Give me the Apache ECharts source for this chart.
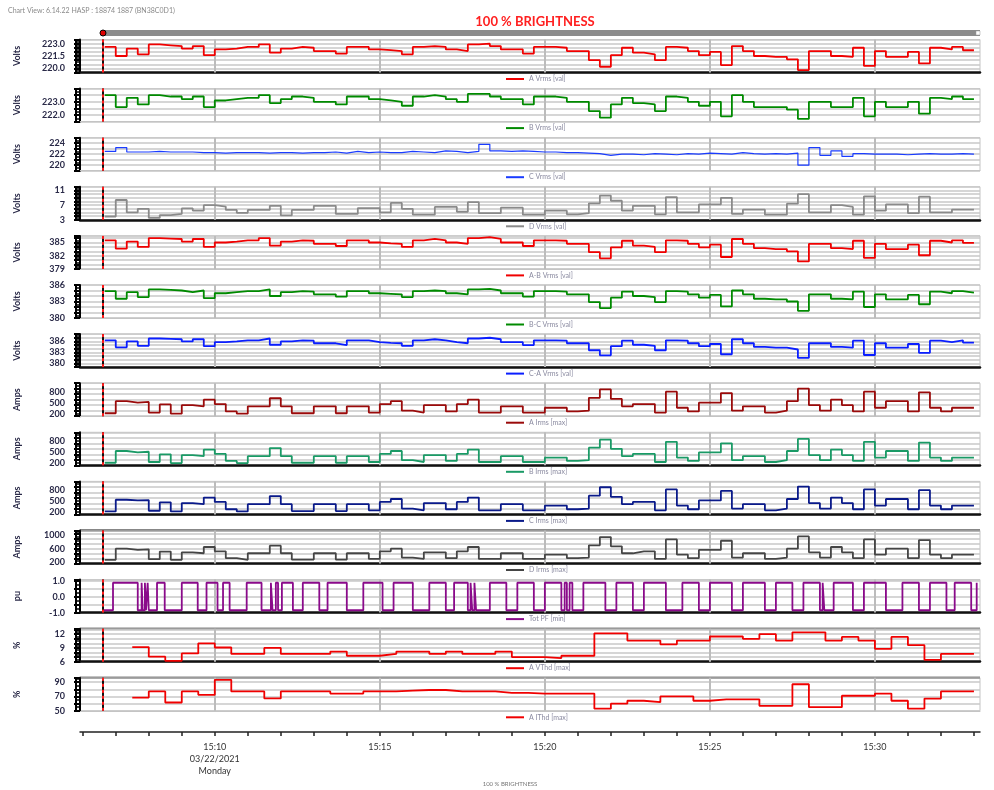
<!DOCTYPE html>
<html>
<head>
<meta charset="utf-8">
<title>100 % BRIGHTNESS</title>
<script src="https://cdn.jsdelivr.net/npm/echarts@6/dist/echarts.min.js"></script>
<style>
  html, body { margin: 0; padding: 0; background: #fff; }
  #chart { width: 994px; height: 790px; }
</style>
</head>
<body>
<div id="chart"></div>
<script>
// time is in seconds after 15:00:00
// fast channels: one sample every 20 s starting 15:06:40
var sampleStart = 400, sampleStep = 20;

var aVrms = [222.6, 221.5, 222.4, 221.7, 222.9, 222.8, 222.7, 222.4, 222.7, 221.6,
  222.3, 222.4, 222.6, 222.6, 222.9, 221.9, 222.4, 222.6, 222.5, 222.1,
  222.1, 221.8, 222.6, 222.6, 222.3, 222.2, 222.1, 221.7, 222.6, 222.7,
  222.6, 222.3, 222.1, 222.9, 223.0, 222.7, 222.3, 222.3, 221.8, 222.6,
  222.6, 222.5, 222.1, 222.1, 221.0, 220.2, 221.6, 222.5, 221.9, 221.7,
  221.0, 222.6, 222.5, 222.1, 221.6, 222.0, 220.4, 222.7, 222.1, 221.5,
  221.4, 221.4, 221.1, 219.8, 222.1, 222.1, 221.5, 221.4, 222.5, 220.3,
  222.1, 221.4, 221.4, 222.0, 220.6, 222.5, 222.3, 222.6, 222.2, 222.2];

var bVrms = [223.5, 222.6, 223.3, 222.8, 223.5, 223.4, 223.4, 223.2, 223.4, 222.6,
  223.1, 223.2, 223.3, 223.3, 223.5, 222.9, 223.2, 223.4, 223.3, 223.0,
  223.0, 222.8, 223.4, 223.4, 223.2, 223.1, 223.0, 222.7, 223.4, 223.5,
  223.4, 223.2, 223.0, 223.6, 223.6, 223.4, 223.2, 223.2, 222.8, 223.4,
  223.4, 223.3, 223.0, 223.0, 222.3, 221.8, 222.8, 223.3, 222.9, 222.8,
  222.3, 223.4, 223.3, 223.0, 222.7, 223.0, 221.9, 223.5, 223.0, 222.6,
  222.6, 222.6, 222.4, 221.7, 223.0, 223.0, 222.6, 222.6, 223.3, 221.9,
  223.0, 222.6, 222.6, 223.0, 222.1, 223.3, 223.2, 223.4, 223.2, 223.2];

var cVrms = [222.5, 223.2, 222.4, 222.4, 222.5, 222.4, 222.4, 222.4, 222.3, 222.3,
  222.2, 222.3, 222.3, 222.3, 222.2, 222.3, 222.3, 222.2, 222.3, 222.3,
  222.4, 222.2, 222.5, 222.3, 222.4, 222.3, 222.3, 222.5, 222.4, 222.3,
  222.6, 222.5, 222.3, 222.5, 223.8, 222.6, 222.5, 222.6, 222.5, 222.4,
  222.4, 222.3, 222.3, 222.2, 222.1, 221.8, 222.0, 222.0, 221.9, 222.1,
  222.0, 221.9, 222.1, 222.0, 222.2, 222.1, 222.0, 222.3, 222.1, 222.0,
  222.1, 222.0, 222.2, 220.0, 223.2, 221.8, 222.6, 221.6, 222.1, 222.0,
  222.0, 222.0, 221.9, 222.0, 222.1, 222.0, 222.0, 222.1, 222.0, 222.0];

var dVrms = [3.9, 8.4, 5.0, 6.0, 3.5, 4.3, 4.6, 6.1, 5.5, 7.0,
  6.6, 5.7, 4.9, 5.7, 5.7, 6.8, 4.2, 5.7, 5.7, 6.8,
  6.8, 4.6, 4.6, 6.2, 6.2, 5.0, 7.6, 6.0, 4.4, 4.4,
  6.5, 6.5, 5.2, 7.8, 4.8, 4.8, 6.3, 6.3, 4.4, 4.4,
  5.5, 5.5, 4.5, 4.8, 7.5, 9.6, 8.2, 5.5, 6.8, 6.8,
  4.5, 9.2, 5.0, 5.0, 7.2, 7.2, 9.0, 4.6, 5.8, 5.8,
  4.4, 4.4, 7.4, 10.0, 5.0, 5.0, 7.0, 6.5, 4.4, 9.4,
  5.5, 7.2, 7.2, 4.8, 9.3, 5.0, 5.0, 5.8, 5.8, 5.8];

var abVrms = [385.5, 383.6, 385.2, 384.0, 386.0, 385.9, 385.8, 385.2, 385.8, 384.0,
  385.0, 385.2, 385.5, 385.5, 386.0, 384.3, 385.2, 385.5, 385.4, 384.7,
  384.7, 384.2, 385.5, 385.5, 385.0, 384.8, 384.7, 384.0, 385.5, 385.8,
  385.5, 385.0, 384.7, 386.0, 386.2, 385.8, 385.0, 385.0, 384.2, 385.5,
  385.5, 385.4, 384.7, 384.7, 382.8, 381.4, 383.9, 385.4, 384.3, 384.0,
  382.8, 385.5, 385.4, 384.7, 383.9, 384.5, 381.7, 385.8, 384.7, 383.7,
  383.5, 383.5, 383.0, 380.7, 384.7, 384.7, 383.7, 383.5, 385.4, 381.5,
  384.7, 383.5, 383.5, 384.5, 382.1, 385.4, 385.0, 385.5, 384.9, 384.9];

var bcVrms = [384.9, 383.5, 384.7, 383.8, 385.2, 385.1, 385.0, 384.7, 385.0, 383.6,
  384.5, 384.7, 384.9, 384.9, 385.2, 384.0, 384.7, 384.9, 384.8, 384.3,
  384.3, 383.9, 384.9, 384.9, 384.5, 384.4, 384.3, 383.8, 384.9, 385.0,
  384.9, 384.5, 384.3, 385.2, 385.3, 385.0, 384.5, 384.5, 383.9, 384.9,
  384.9, 384.8, 384.3, 384.3, 382.9, 381.8, 383.7, 384.8, 384.0, 383.8,
  382.9, 384.9, 384.8, 384.3, 383.7, 384.2, 382.1, 385.0, 384.3, 383.5,
  383.4, 383.4, 383.0, 381.3, 384.3, 384.3, 383.5, 383.4, 384.8, 382.0,
  384.3, 383.4, 383.4, 384.2, 382.5, 384.8, 384.5, 384.9, 384.6, 384.6];

var caVrms = [386.3, 384.4, 386.0, 384.8, 386.8, 386.7, 386.6, 386.0, 386.6, 384.7,
  385.8, 386.0, 386.3, 386.3, 386.8, 385.1, 386.0, 386.3, 386.2, 385.5,
  385.5, 385.0, 386.3, 386.3, 385.8, 385.6, 385.5, 384.8, 386.3, 386.6,
  386.3, 385.8, 385.5, 386.8, 387.0, 386.6, 385.8, 385.8, 385.0, 386.3,
  386.3, 386.2, 385.5, 385.5, 383.6, 382.2, 384.7, 386.2, 385.1, 384.8,
  383.6, 386.3, 386.2, 385.5, 384.7, 385.3, 382.5, 386.6, 385.5, 384.5,
  384.3, 384.3, 383.8, 381.5, 385.5, 385.5, 384.5, 384.3, 386.2, 382.3,
  385.5, 384.3, 384.3, 385.3, 382.9, 386.2, 385.8, 386.3, 385.7, 385.7];

var aIrms = [230, 560, 520, 540, 250, 470, 220, 450, 420, 600,
  480, 280, 220, 420, 420, 640, 420, 230, 230, 420,
  420, 230, 420, 420, 250, 480, 560, 300, 250, 450,
  450, 280, 480, 600, 250, 250, 420, 420, 250, 250,
  380, 380, 280, 300, 650, 880, 620, 420, 480, 480,
  250, 820, 380, 280, 520, 520, 780, 300, 420, 420,
  250, 300, 560, 900, 450, 300, 600, 450, 280, 820,
  380, 560, 560, 280, 800, 380, 280, 380, 380, 380];

var bIrms = [220, 540, 500, 520, 240, 450, 210, 430, 400, 580,
  460, 270, 210, 400, 400, 620, 400, 220, 220, 400,
  400, 220, 400, 400, 240, 460, 540, 290, 240, 430,
  430, 270, 460, 580, 240, 240, 400, 400, 240, 240,
  360, 360, 270, 290, 630, 850, 600, 400, 460, 460,
  240, 790, 360, 270, 500, 500, 750, 290, 400, 400,
  240, 290, 540, 870, 430, 290, 580, 430, 270, 790,
  360, 540, 540, 270, 770, 360, 270, 360, 360, 360];

var cIrms = [230, 550, 530, 540, 250, 480, 230, 460, 430, 610,
  490, 290, 230, 430, 430, 650, 430, 240, 240, 430,
  430, 240, 430, 430, 260, 490, 570, 310, 260, 460,
  460, 290, 490, 610, 260, 260, 430, 430, 260, 260,
  390, 390, 290, 310, 660, 890, 630, 430, 490, 490,
  260, 830, 390, 290, 530, 530, 790, 310, 430, 430,
  260, 310, 570, 910, 460, 310, 610, 460, 290, 830,
  390, 570, 570, 290, 810, 390, 290, 390, 390, 390];

var dIrms = [260, 600, 560, 580, 280, 510, 260, 490, 460, 650,
  520, 310, 260, 460, 460, 690, 460, 270, 270, 460,
  460, 270, 460, 460, 290, 520, 600, 330, 290, 490,
  490, 310, 520, 650, 290, 290, 460, 460, 290, 290,
  420, 420, 310, 330, 700, 950, 670, 460, 520, 520,
  290, 880, 420, 310, 560, 560, 840, 330, 460, 460,
  290, 330, 600, 970, 490, 330, 650, 490, 310, 880,
  420, 600, 600, 310, 860, 420, 310, 420, 420, 420];

// total PF: change points
var pfTimes = [396, 415, 460, 467, 469, 473, 475, 478, 480, 495,
  509, 540, 569, 585, 605, 615, 627, 658, 685, 702,
  705, 711, 715, 722, 742, 760, 790, 805, 840, 870,
  905, 925, 960, 990, 1020, 1035, 1060, 1065, 1068, 1072,
  1075, 1100, 1130, 1150, 1180, 1200, 1230, 1236, 1240, 1245,
  1250, 1270, 1310, 1330, 1360, 1380, 1420, 1450, 1480, 1500,
  1540, 1560, 1600, 1620, 1650, 1670, 1700, 1705, 1708, 1725,
  1760, 1780, 1820, 1850, 1880, 1900, 1930, 1945, 1975, 1985];
var pfValues = [-0.85, 0.9, -0.85, 0.9, -0.85, 0.9, -0.85, 0.9, -0.85, 0.9,
  -0.85, 0.9, -0.85, 0.9, -0.85, 0.9, -0.85, 0.9, -0.85, 0.9,
  -0.85, 0.9, -0.85, 0.9, -0.85, 0.9, -0.85, 0.9, -0.85, 0.9,
  -0.85, 0.9, -0.85, 0.9, -0.85, 0.9, -0.85, 0.9, -0.85, 0.9,
  -0.85, 0.9, -0.85, 0.9, -0.85, 0.9, -0.85, 0.9, -0.85, 0.9,
  -0.85, 0.9, -0.85, 0.9, -0.85, 0.9, -0.85, 0.9, -0.85, 0.9,
  -0.85, 0.9, -0.85, 0.9, -0.85, 0.9, -0.85, 0.9, -0.85, 0.9,
  -0.85, 0.9, -0.85, 0.9, -0.85, 0.9, -0.85, 0.9, -0.85, 0.9];

// THD channels: one value every 30 s starting 15:07:30
var thdStart = 450, thdStep = 30;
var aVthd = [9.2, 7.1, 6.2, 7.8, 10.0, 9.1, 7.7, 7.7, 9.0, 7.7,
  7.7, 7.7, 8.2, 7.3, 7.3, 7.7, 8.2, 8.2, 7.7, 8.2,
  7.7, 7.7, 8.2, 7.0, 7.0, 6.8, 7.3, 7.3, 12.2, 12.2,
  10.6, 10.6, 9.8, 10.6, 10.6, 11.5, 11.5, 11.0, 12.0, 10.6,
  12.4, 12.4, 10.6, 11.4, 10.6, 8.8, 11.4, 9.6, 6.4, 7.7,
  7.7, 7.7];
var aIthd = [68.5, 77, 61.6, 77, 72.3, 93.2, 77, 77, 67.2, 77,
  77, 77, 74, 74, 77, 77, 78, 79, 79, 77,
  77, 77, 75, 75, 74, 74, 74, 74, 53, 60,
  64, 62, 70, 70, 64, 66, 66, 66, 57, 57,
  87, 55, 55, 71, 71, 74, 64, 53, 67, 77,
  77, 77];

var cursorTime = 396;          // 15:06:36
var axisMin = 355, axisMax = 1991;
var labelTimes = [600, 900, 1200, 1500, 1800];
var minuteTicks = [];
for (var m = 6; m <= 33; m++) minuteTicks.push(m * 60);

function series20(vals) {
  return vals.map(function (v, i) { return [sampleStart + i * sampleStep, v]; });
}
function series30(vals) {
  return vals.map(function (v, i) { return [thdStart + i * thdStep, v]; });
}

var panels = [
  {name: 'A Vrms [val]', unit: 'Volts', color: '#f00000', data: series20(aVrms), min: 219.5, max: 223.5, interval: 0.5, labels: [220, 221.5, 223], dec: 1, dark: true},
  {name: 'B Vrms [val]', unit: 'Volts', color: '#008a00', data: series20(bVrms), min: 221.5, max: 224, interval: 0.5, labels: [222, 223], dec: 1},
  {name: 'C Vrms [val]', unit: 'Volts', color: '#1a3cff', data: series20(cVrms), min: 219, max: 225, interval: 1, labels: [220, 222, 224], dec: 0, width: 1.2},
  {name: 'D Vrms [val]', unit: 'Volts', color: '#8a8a8a', data: series20(dVrms), min: 3, max: 12, interval: 1, labels: [3, 7, 11], dec: 0, dark: true},
  {name: 'A-B Vrms [val]', unit: 'Volts', color: '#f00000', data: series20(abVrms), min: 379, max: 386.5, interval: 1, labels: [379, 382, 385], dec: 0},
  {name: 'B-C Vrms [val]', unit: 'Volts', color: '#008a00', data: series20(bcVrms), min: 380, max: 386, interval: 1, labels: [380, 383, 386], dec: 0},
  {name: 'C-A Vrms [val]', unit: 'Volts', color: '#0a1eff', data: series20(caVrms), min: 379, max: 388, interval: 1, labels: [380, 383, 386], dec: 0, dark: true},
  {name: 'A Irms [max]', unit: 'Amps', color: '#9a0a0a', data: series20(aIrms), min: 150, max: 1050, interval: 150, labels: [200, 500, 800], dec: 0},
  {name: 'B Irms [max]', unit: 'Amps', color: '#1a9a66', data: series20(bIrms), min: 150, max: 1050, interval: 150, labels: [200, 500, 800], dec: 0, dark: true},
  {name: 'C Irms [max]', unit: 'Amps', color: '#0a1a8a', data: series20(cIrms), min: 150, max: 1050, interval: 150, labels: [200, 500, 800], dec: 0, dark: true},
  {name: 'D Irms [max]', unit: 'Amps', color: '#454545', data: series20(dIrms), min: 150, max: 1150, interval: 150, labels: [200, 600, 1000], dec: 0, dark: true, darkTop: true},
  {name: 'Tot PF [min]', unit: 'pu', color: '#8a0a8a', data: pfTimes.map(function (t, i) { return [t, pfValues[i]]; }), min: -1, max: 1.1, interval: 0.5, labels: [-1, 0, 1], dec: 1, dark: true},
  {name: 'A VThd [max]', unit: '%', color: '#f00000', data: series30(aVthd), min: 6, max: 13.2, interval: 1, labels: [6, 9, 12], dec: 0, dark: true, darkTop: true},
  {name: 'A IThd [max]', unit: '%', color: '#f00000', data: series30(aIthd), min: 50, max: 96, interval: 10, labels: [50, 70, 90], dec: 0, darkTop: true}
];

var gridLeft = 80, gridRight = 14, firstTop = 39.5, pitch = 49.1, panelH = 33;
var grids = [], xAxes = [], yAxes = [], series = [], legends = [], graphics = [];

panels.forEach(function (p, k) {
  var top = firstTop + pitch * k;
  grids.push({left: gridLeft, right: gridRight, top: top, height: panelH,
    show: true, borderColor: '#c4c4c4', borderWidth: 1});
  xAxes.push({
    gridIndex: k, type: 'value', min: axisMin, max: axisMax,
    axisLine: {show: true, onZero: false, lineStyle: {color: p.dark ? '#111' : '#c4c4c4', width: p.dark ? 2.5 : 1}},
    axisTick: {show: false},
    axisLabel: {show: false},
    splitLine: {show: false}
  });
  yAxes.push({
    gridIndex: k, type: 'value', min: p.min, max: p.max, interval: p.interval,
    name: p.unit, nameLocation: 'middle', nameGap: 58, nameRotate: 90,
    nameTextStyle: {fontSize: 9, color: '#2a2a48', fontWeight: 'bold', fontFamily: 'Lato'},
    axisLine: {show: true, lineStyle: {color: '#000', width: 2}},
    axisTick: {show: true, length: 6, lineStyle: {color: '#000', width: 2}},
    minorTick: {show: true, splitNumber: 2, length: 4, lineStyle: {color: '#000', width: 1.5}},
    minorSplitLine: {show: false},
    axisLabel: {customValues: p.labels, margin: 15, fontSize: 9, fontWeight: 'bold',
      color: '#2a2a48', fontFamily: 'Lato',
      formatter: (function (d) { return function (v) { return v.toFixed(d); }; })(p.dec)},
    splitLine: {show: true, lineStyle: {color: '#c8c8c8', width: 1.5}}
  });
  // 5-minute vertical grid lines, drawn under the data
  series.push({
    type: 'line', name: 'grid' + k, xAxisIndex: k, yAxisIndex: k, data: [], z: 1,
    markLine: {
      z: 1, silent: true, symbol: ['none', 'none'], label: {show: false}, animation: false,
      lineStyle: {color: '#bcbcbc', width: 2, type: 'solid'},
      data: labelTimes.map(function (t) { return {xAxis: t}; })
    }
  });
  series.push({
    type: 'line', name: p.name, xAxisIndex: k, yAxisIndex: k, data: p.data, z: 3,
    step: 'end', showSymbol: false, symbol: 'none',
    lineStyle: {color: p.color, width: p.width || 1.8},
    itemStyle: {color: p.color},
    markLine: {
      silent: true, symbol: ['none', 'none'], label: {show: false},
      data: [
        {xAxis: cursorTime, lineStyle: {color: '#111', width: 2, type: 'solid'}},
        {xAxis: cursorTime, lineStyle: {color: '#ff1a1a', width: 2, type: [3, 3]}}
      ]
    }
  });
  legends.push({
    data: [p.name], top: top + panelH + 3, left: 506, padding: 0,
    icon: 'rect', itemWidth: 18, itemHeight: 2, itemGap: 4,
    textStyle: {fontSize: 7, color: '#8a8aa0', fontFamily: 'Lato'}
  });
  graphics.push({type: 'line', shape: {x1: 76, y1: top, x2: 76, y2: top + panelH},
    style: {stroke: '#000', lineWidth: 2}});
  if (p.darkTop) {
    graphics.push({type: 'line', shape: {x1: gridLeft, y1: top, x2: 994 - gridRight, y2: top},
      style: {stroke: '#111', lineWidth: 2}});
  }
});

// bottom time axis
var axisGrid = panels.length;
grids.push({left: gridLeft, right: gridRight, top: 731, height: 1, show: false});
xAxes.push({
  gridIndex: axisGrid, type: 'value', min: axisMin, max: axisMax, position: 'bottom',
  axisLine: {show: true, onZero: false, lineStyle: {color: '#222', width: 1.5}},
  axisTick: {show: true, customValues: minuteTicks, length: 4, lineStyle: {color: '#222', width: 1.5}},
  axisLabel: {customValues: labelTimes, margin: 9, fontSize: 9, color: '#333', fontFamily: 'Lato',
    lineHeight: 12,
    formatter: function (v) {
      var mm = Math.round(v / 60);
      var s = '15:' + (mm < 10 ? '0' : '') + mm;
      if (v === 600) s += '\n03/22/2021\nMonday';
      return s;
    }},
  splitLine: {show: false}
});
yAxes.push({gridIndex: axisGrid, type: 'value', min: 0, max: 1, show: false});

graphics.push(
  {type: 'text', left: 8, top: 7, style: {text: 'Chart View: 6.14.22 HASP : 18874 1887 (BN38C0D1)',
    fontSize: 7, fill: '#8a8a8a', fontFamily: 'Lato'}},
  {type: 'text', x: 535, y: 15, style: {text: '100 % BRIGHTNESS', fontSize: 13, fontWeight: 'bold',
    fill: '#ff2020', textAlign: 'center', fontFamily: 'Lato'}},
  {type: 'rect', shape: {x: 101, y: 30, width: 879, height: 6}, style: {fill: '#8c8c8c'}},
  {type: 'rect', shape: {x: 976, y: 31, width: 4, height: 4}, style: {fill: '#fff', stroke: '#999', lineWidth: 0.5}},
  {type: 'circle', shape: {cx: 103, cy: 33, r: 3}, style: {fill: '#d00', stroke: '#000', lineWidth: 1}},
  {type: 'text', x: 510, y: 781, style: {text: '100 % BRIGHTNESS', fontSize: 6, fill: '#777',
    textAlign: 'center', fontFamily: 'Lato'}}
);

var chart = echarts.init(document.getElementById('chart'), null, {renderer: 'canvas'});
chart.setOption({
  animation: false,
  backgroundColor: '#fff',
  grid: grids,
  xAxis: xAxes,
  yAxis: yAxes,
  legend: legends,
  series: series,
  graphic: graphics
});
</script>
</body>
</html>
